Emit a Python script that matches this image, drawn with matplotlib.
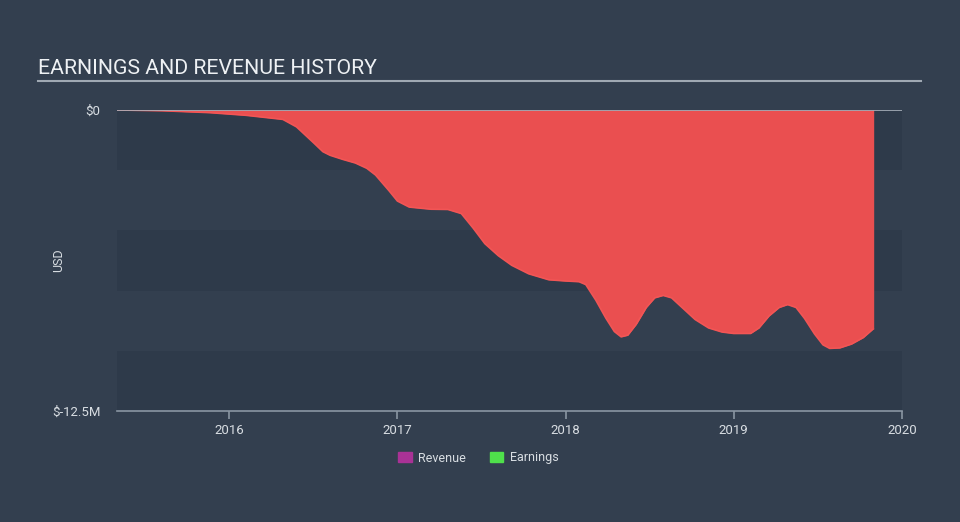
import matplotlib
matplotlib.use('Agg')
from matplotlib import pyplot as plt
from matplotlib.patches import Patch

# earnings history, millions USD
years = [2015.333, 2015.6, 2015.885, 2016.1, 2016.319, 2016.4, 2016.5, 2016.557, 2016.6, 2016.675,
         2016.75, 2016.818, 2016.87, 2016.95, 2017.0, 2017.07, 2017.2, 2017.3, 2017.38, 2017.45,
         2017.52, 2017.6, 2017.68, 2017.78, 2017.9, 2018.0, 2018.08, 2018.12, 2018.18, 2018.24,
         2018.29, 2018.33, 2018.37, 2018.42, 2018.48, 2018.53, 2018.58, 2018.63, 2018.7, 2018.77,
         2018.85, 2018.93, 2019.0, 2019.1, 2019.15, 2019.21, 2019.27, 2019.32, 2019.37, 2019.42,
         2019.48, 2019.53, 2019.57, 2019.63, 2019.7, 2019.77, 2019.829]
earnings = [0.0, -0.03, -0.11, -0.22, -0.39, -0.7, -1.35, -1.73, -1.88, -2.05,
            -2.2, -2.42, -2.7, -3.35, -3.78, -4.03, -4.12, -4.13, -4.3, -4.9,
            -5.55, -6.05, -6.45, -6.8, -7.05, -7.1, -7.13, -7.25, -7.9, -8.65,
            -9.2, -9.42, -9.35, -8.9, -8.2, -7.8, -7.7, -7.8, -8.25, -8.7,
            -9.05, -9.22, -9.28, -9.28, -9.05, -8.55, -8.2, -8.08, -8.2, -8.65,
            -9.3, -9.75, -9.9, -9.88, -9.72, -9.45, -9.09]

xticks = [2016, 2017, 2018, 2019, 2020]
yticks = [0, -12.5]
ytick_labels = ['$0', '$-12.5M']

bg = '#333f4f'
band = '#2e3a4a'
txt = '#d8dde2'

plt.rcParams['font.family'] = ['Roboto', 'DejaVu Sans']
fig = plt.figure(figsize=(9.6, 5.22), dpi=100, facecolor=bg)
ax = fig.add_axes([117 / 960, 1 - 411 / 522, (902 - 117) / 960, (411 - 110) / 522])
ax.set_facecolor(bg)

ax.set_xlim(2015.333, 2020.0)
ax.set_ylim(-12.5, 0)

# alternating horizontal bands
for i in range(5):
    if i % 2 == 0:
        ax.axhspan(-2.5 * (i + 1), -2.5 * i, color=band, lw=0, zorder=0)

ax.fill_between(years, earnings, 0, color='#ea4f50', lw=0, zorder=2)
ax.plot(years, earnings, color='#f25555', lw=1.2, zorder=3)
ax.vlines(years[-1], earnings[-1], 0, color='#ea4f50', lw=1, zorder=3)
ax.axhline(0, color='#a9b2bc', lw=1.2, zorder=4)

for s in ['top', 'right', 'left']:
    ax.spines[s].set_visible(False)
ax.spines['bottom'].set_color('#8a96a3')
ax.spines['bottom'].set_linewidth(1.2)

ax.set_xticks(xticks)
ax.set_xticklabels([str(t) for t in xticks])
ax.tick_params(axis='x', colors='#8a96a3', length=6, width=1.2, labelcolor=txt, labelsize=9.5, pad=3)
ax.set_yticks(yticks)
ax.set_yticklabels(ytick_labels)
ax.tick_params(axis='y', length=0, labelcolor=txt, labelsize=9.5, pad=12)
ax.set_ylabel('USD', color=txt, fontsize=9)
ax.yaxis.set_label_coords(-0.066, 0.5)

fig.text(38 / 960, 1 - 68 / 522, 'EARNINGS AND REVENUE HISTORY', color='#eef1f4', fontsize=15.3,
         va='center', ha='left')
fig.add_artist(plt.Line2D([38 / 960, 921 / 960], [1 - 81 / 522, 1 - 81 / 522], color='#a0a9b3', lw=1.5))

handles = [Patch(color='#a93296', label='Revenue'), Patch(color='#4fe04b', label='Earnings')]
fig.legend(handles=handles, loc='center', bbox_to_anchor=(0.498, 1 - 458 / 522), ncol=2, frameon=False,
           fontsize=9, labelcolor=txt, handlelength=1.1, handleheight=0.9, columnspacing=1.9, handletextpad=0.5)

fig.savefig('out.png', dpi=100, facecolor=bg)
